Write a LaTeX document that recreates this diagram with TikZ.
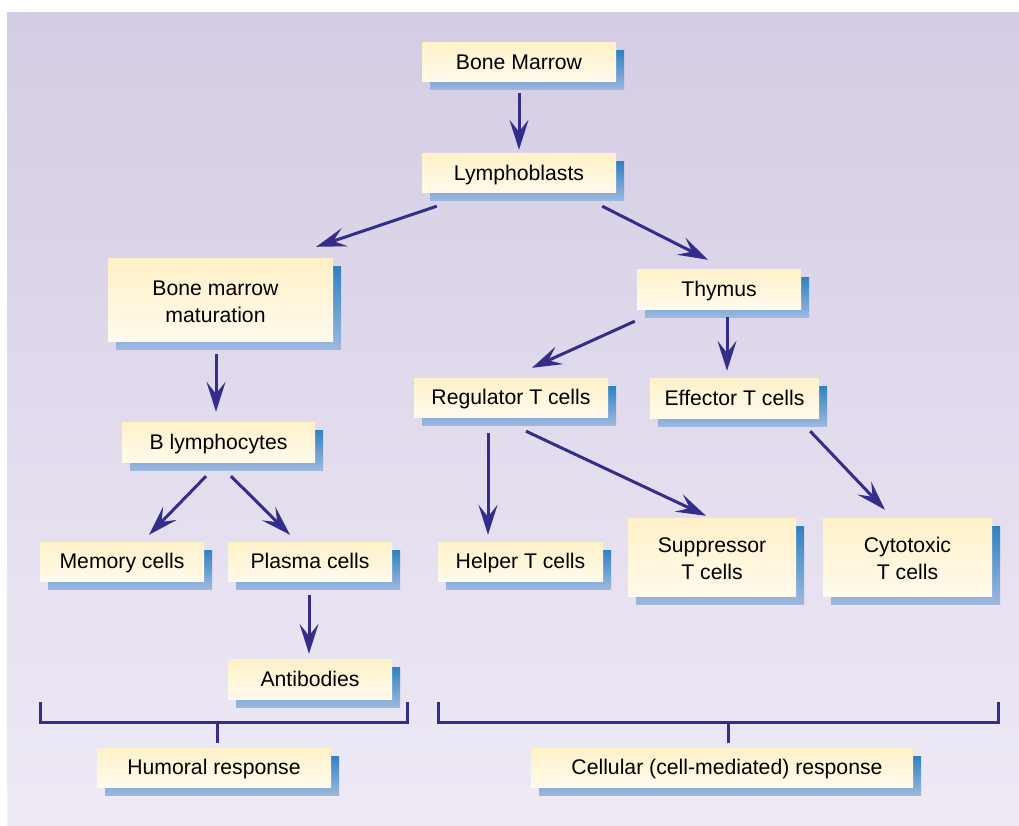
\documentclass[tikz,border=0pt]{standalone}
\usepackage{fontspec}
\setmainfont{Liberation Sans}
\usetikzlibrary{arrows.meta,shadows,calc}
\definecolor{arrowblue}{RGB}{52,45,140}
\definecolor{boxtop}{RGB}{255,241,200}
\definecolor{boxbot}{RGB}{255,250,236}
\definecolor{shtop}{RGB}{47,130,195}
\definecolor{shbot}{RGB}{157,184,222}
\definecolor{bgtop}{RGB}{212,204,228}
\definecolor{bgmid}{RGB}{226,220,236}
\definecolor{bgbot}{RGB}{239,234,246}
\newcommand\twolines[3][0pt]{\raisebox{-4pt}[\height][\depth]{\begin{tabular}{@{}c@{}}#2\\#3\end{tabular}}\hspace*{#1}}
\begin{document}
\begin{tikzpicture}[x=1pt,y=-1pt,
  box/.style={inner sep=0pt, align=center, font=\fontsize{21.2}{27}\selectfont,
    text height=19.5pt, text depth=5pt,
    top color=boxtop, bottom color=boxbot,
    general shadow={top color=shtop, bottom color=shbot, shadow xshift=8pt, shadow yshift=-8pt}},
  twobox/.style={box, text height=, text depth=},
  arr/.style={draw=arrowblue, line width=3pt, -{Stealth[length=30pt,width=19pt,inset=12pt]}},
  brk/.style={draw=arrowblue, line width=3pt, line join=miter}]
\useasboundingbox (0,0) rectangle (1019,826);
\shade[top color=bgtop, middle color=bgmid, bottom color=bgbot] (7,13) rectangle (1019,826);

\node[box, minimum width=194pt, minimum height=39pt] (bm) at (519,62.5) {Bone Marrow};
\node[box, minimum width=194pt, minimum height=39pt] (lb) at (519,173.5) {Lymphoblasts};
\node[twobox, minimum width=225pt, minimum height=83pt] (bmm) at (220.5,299.5) {\twolines[10pt]{Bone marrow}{maturation}};
\node[box, minimum width=164pt, minimum height=40pt] (thy) at (719,289) {Thymus};
\node[box, minimum width=194pt, minimum height=39pt] (reg) at (511,397.5) {Regulator T cells};
\node[box, minimum width=169pt, minimum height=40pt] (eff) at (734.5,398) {Effector T cells};
\node[box, minimum width=193pt, minimum height=40pt] (bl) at (218.5,442) {B lymphocytes};
\node[box, minimum width=164pt, minimum height=39pt] (mem) at (122,561.5) {Memory cells};
\node[box, minimum width=164pt, minimum height=39pt] (pla) at (310,561.5) {Plasma cells};
\node[box, minimum width=165pt, minimum height=39pt] (hel) at (520.5,561.5) {Helper T cells};
\node[twobox, minimum width=168pt, minimum height=78pt] (sup) at (712,557) {\twolines{Suppressor}{T cells}};
\node[twobox, minimum width=169pt, minimum height=78pt] (cyt) at (907.5,557) {\twolines{Cytotoxic}{T cells}};
\node[box, minimum width=164pt, minimum height=40pt] (ab) at (310,679) {Antibodies};
\node[box, minimum width=234pt, minimum height=39pt] (hum) at (214,767.5) {Humoral response};
\node[box, minimum width=382pt, minimum height=39pt] (cel) at (722,767.5) {\hspace*{10pt}Cellular (cell-mediated) response};

\draw[arr] ([shift={(0,11)}]bm.south) -- ([shift={(0,-4)}]lb.north);
\draw[arr] ([shift={(15,13)}]lb.south west) -- ([shift={(-17,-11)}]bmm.north east);
\draw[arr] ([shift={(-14,13)}]lb.south east) -- ([shift={(-11,-9)}]thy.north);
\draw[arr] ([shift={(-4.5,13)}]bmm.south) -- ([shift={(-2.5,-10)}]bl.north);
\draw[arr] ([shift={(-2,12)}]thy.south west) -- ([shift={(21,-10)}]reg.north);
\draw[arr] ([shift={(8,8)}]thy.south) -- ([shift={(-7.5,-7)}]eff.north);
\draw[arr] ([shift={(-12.5,14)}]bl.south) -- ([shift={(27,-7)}]mem.north);
\draw[arr] ([shift={(12.5,14)}]bl.south) -- ([shift={(-20,-7)}]pla.north);
\draw[arr] ([shift={(-1,14)}]pla.south) -- ([shift={(-1,-5)}]ab.north);
\draw[arr] ([shift={(-23,16)}]reg.south) -- ([shift={(-32.5,-7)}]hel.north);
\draw[arr] ([shift={(15,14)}]reg.south) -- ([shift={(-6,-2)}]sup.north);
\draw[arr] ([shift={(-9,13)}]eff.south east) -- ([shift={(-22.5,-8)}]cyt.north);

\coordinate (hl) at (40,702);
\coordinate (hr) at (407,702);
\coordinate (hm) at (217,722);
\draw[brk] (hl) -- (hl |- hm) -- (hr |- hm) -- (hr);
\draw[brk] (hm) -- ([yshift=5pt]hum.north -| hm);

\coordinate (cl) at (438,702);
\coordinate (cr) at (998,702);
\coordinate (cm) at (728,722);
\draw[brk] (cl) -- (cl |- cm) -- (cr |- cm) -- (cr);
\draw[brk] (cm) -- ([yshift=5pt]cel.north -| cm);
\end{tikzpicture}
\end{document}
